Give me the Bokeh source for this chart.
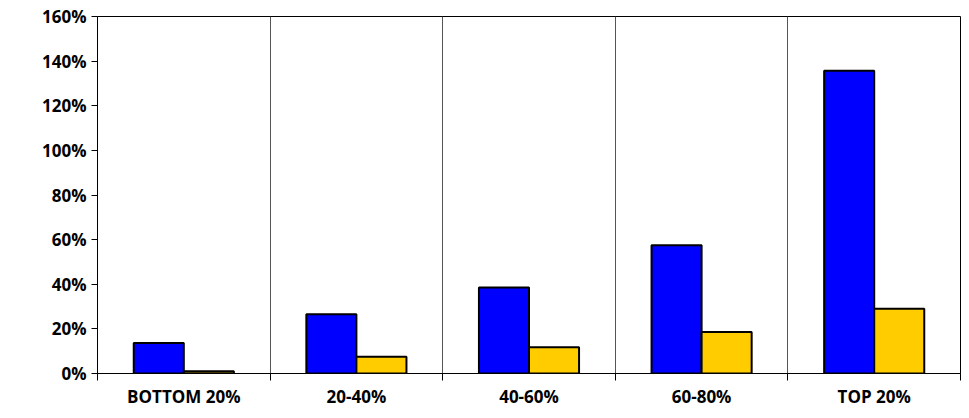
from bokeh.plotting import figure
from bokeh.models import FixedTicker, NumeralTickFormatter, Range1d
from bokeh.embed import file_html
from bokeh.resources import INLINE

categories = ["BOTTOM 20%", "20-40%", "40-60%", "60-80%", "TOP 20%"]
blue_vals = [0.137, 0.265, 0.385, 0.575, 1.357]
gold_vals = [0.01, 0.075, 0.118, 0.186, 0.29]

xc = [i + 0.5 for i in range(len(categories))]
w = 0.29

p = figure(width=961, height=410, output_backend="svg", toolbar_location=None,
           x_range=Range1d(0, 5), y_range=Range1d(0, 1.6),
           min_border_left=97, min_border_top=16, min_border_bottom=25, min_border_right=1)

p.vbar(x=[c - w / 2 for c in xc], top=blue_vals, width=w, bottom=0,
       fill_color="#0000FF", line_color="black", line_width=2)
p.vbar(x=[c + w / 2 for c in xc], top=gold_vals, width=w, bottom=0,
       fill_color="#FFCC00", line_color="black", line_width=2)

p.outline_line_color = "black"
p.outline_line_alpha = 1
p.ygrid.visible = False
p.xgrid.ticker = FixedTicker(ticks=[1, 2, 3, 4])
p.xgrid.grid_line_color = "#555555"
p.xgrid.grid_line_width = 1

p.xaxis.ticker = FixedTicker(ticks=xc, minor_ticks=[0, 1, 2, 3, 4, 5])
p.xaxis.major_label_overrides = {x: c for x, c in zip(xc, categories)}
p.xaxis.major_tick_line_color = None
p.xaxis.minor_tick_out = 7
p.xaxis.minor_tick_in = 0
p.xaxis.minor_tick_line_color = "black"
p.xaxis.major_label_standoff = 4

p.yaxis.ticker = FixedTicker(ticks=[i * 0.2 for i in range(9)])
p.yaxis.formatter = NumeralTickFormatter(format="0%")
p.yaxis.minor_tick_line_color = None
p.yaxis.major_tick_out = 6
p.yaxis.major_tick_in = 0

for ax in (p.xaxis, p.yaxis):
    ax.axis_line_color = "black"
    ax.major_label_text_font = "Open Sans"
    ax.major_label_text_font_style = "bold"
    ax.major_label_text_font_size = "17px"
    ax.major_label_text_color = "black"

open("out.html", "w").write(file_html(p, INLINE))
